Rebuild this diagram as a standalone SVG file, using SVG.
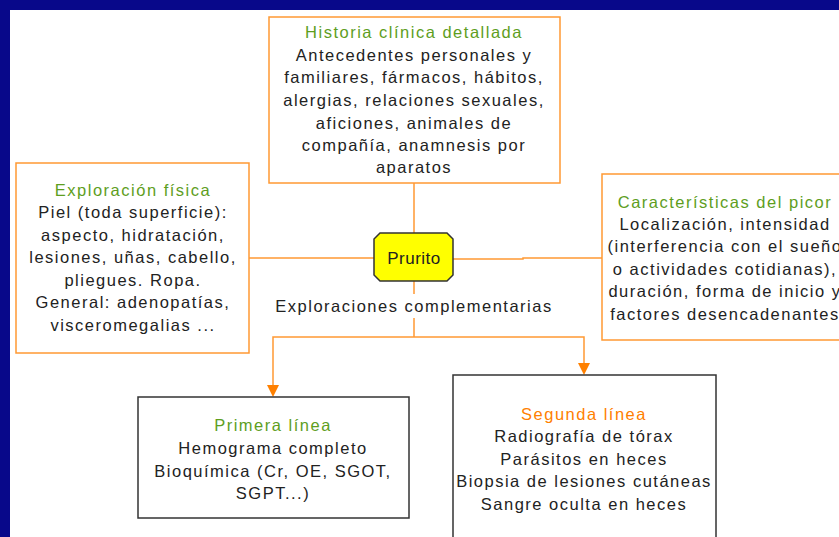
<svg xmlns="http://www.w3.org/2000/svg" width="839" height="537" viewBox="0 0 839 537">
<style>
  .box { fill: #ffffff; stroke: #FF9933; stroke-width: 1.5; }
  .bbox { fill: #ffffff; stroke: #333333; stroke-width: 1.5; }
  .line { fill: none; stroke: #FF9933; stroke-width: 1.5; }
  text { font-family: "Liberation Sans", Arial, sans-serif; font-size: 16.5px; letter-spacing: 1.5px; text-anchor: middle; fill: #222222; }
  .title { fill: #5E9E1E; }
  .otitle { fill: #FF8000; }
</style>
<rect x="0" y="0" width="839" height="537" fill="#ffffff"/>
<rect x="0" y="0" width="839" height="10" fill="#08088A"/>
<rect x="0" y="0" width="10" height="537" fill="#08088A"/>

<g id="connectors">
  <path class="line" d="M414,183 V233"/>
  <path class="line" d="M249,258 H374"/>
  <path class="line" d="M453,259 H523 V258 H602"/>
  <path class="line" d="M414,281 V294"/>
  <path class="line" d="M414,318 V337"/>
  <path class="line" d="M414,337 H273 V385"/>
  <path class="line" d="M414,337 H584 V363"/>
  <path d="M267,385 H279 L273,397 Z" fill="#FF8000"/>
  <path d="M578,363 H590 L584,375 Z" fill="#FF8000"/>
</g>

<g id="historia">
  <rect class="box" x="269" y="17" width="291" height="166"/>
  <text x="414" y="38" class="title">Historia clínica detallada</text>
  <text x="414" y="61">Antecedentes personales y</text>
  <text x="414" y="83">familiares, fármacos, hábitos,</text>
  <text x="414" y="106">alergias, relaciones sexuales,</text>
  <text x="414" y="129">aficiones, animales de</text>
  <text x="414" y="151">compañía, anamnesis por</text>
  <text x="414" y="173">aparatos</text>
</g>

<g id="exploracion">
  <rect class="box" x="16" y="163" width="233" height="190"/>
  <text x="133" y="196" class="title">Exploración física</text>
  <text x="133" y="218">Piel (toda superficie):</text>
  <text x="133" y="241">aspecto, hidratación,</text>
  <text x="133" y="263">lesiones, uñas, cabello,</text>
  <text x="133" y="286">pliegues. Ropa.</text>
  <text x="133" y="308">General: adenopatías,</text>
  <text x="133" y="331">visceromegalias ...</text>
</g>

<g id="caracteristicas">
  <rect class="box" x="602" y="174" width="250" height="166"/>
  <text x="725" y="208" class="title">Características del picor</text>
  <text x="725" y="230">Localización, intensidad</text>
  <text x="725" y="252">(interferencia con el sueño</text>
  <text x="725" y="275">o actividades cotidianas),</text>
  <text x="725" y="297">duración, forma de inicio y</text>
  <text x="725" y="320">factores desencadenantes</text>
</g>

<g id="prurito">
  <path d="M380,233 H447 L453,239 V275 L447,281 H380 L374,275 V239 Z" fill="#FFFF00" stroke="#333333" stroke-width="1.5"/>
  <text x="414" y="264" style="font-size:17px;letter-spacing:0.5px">Prurito</text>
</g>

<g id="exploraciones-label">
  <text x="414" y="312">Exploraciones complementarias</text>
</g>

<g id="primera">
  <rect class="bbox" x="138" y="397" width="271" height="121"/>
  <text x="273" y="431" class="title">Primera línea</text>
  <text x="273" y="454">Hemograma completo</text>
  <text x="273" y="477">Bioquímica (Cr, OE, SGOT,</text>
  <text x="273" y="499">SGPT...)</text>
</g>

<g id="segunda">
  <rect class="bbox" x="453" y="375" width="263" height="175"/>
  <text x="584" y="420" class="otitle">Segunda línea</text>
  <text x="584" y="442">Radiografía de tórax</text>
  <text x="584" y="465">Parásitos en heces</text>
  <text x="584" y="487">Biopsia de lesiones cutáneas</text>
  <text x="584" y="510">Sangre oculta en heces</text>
</g>
</svg>
